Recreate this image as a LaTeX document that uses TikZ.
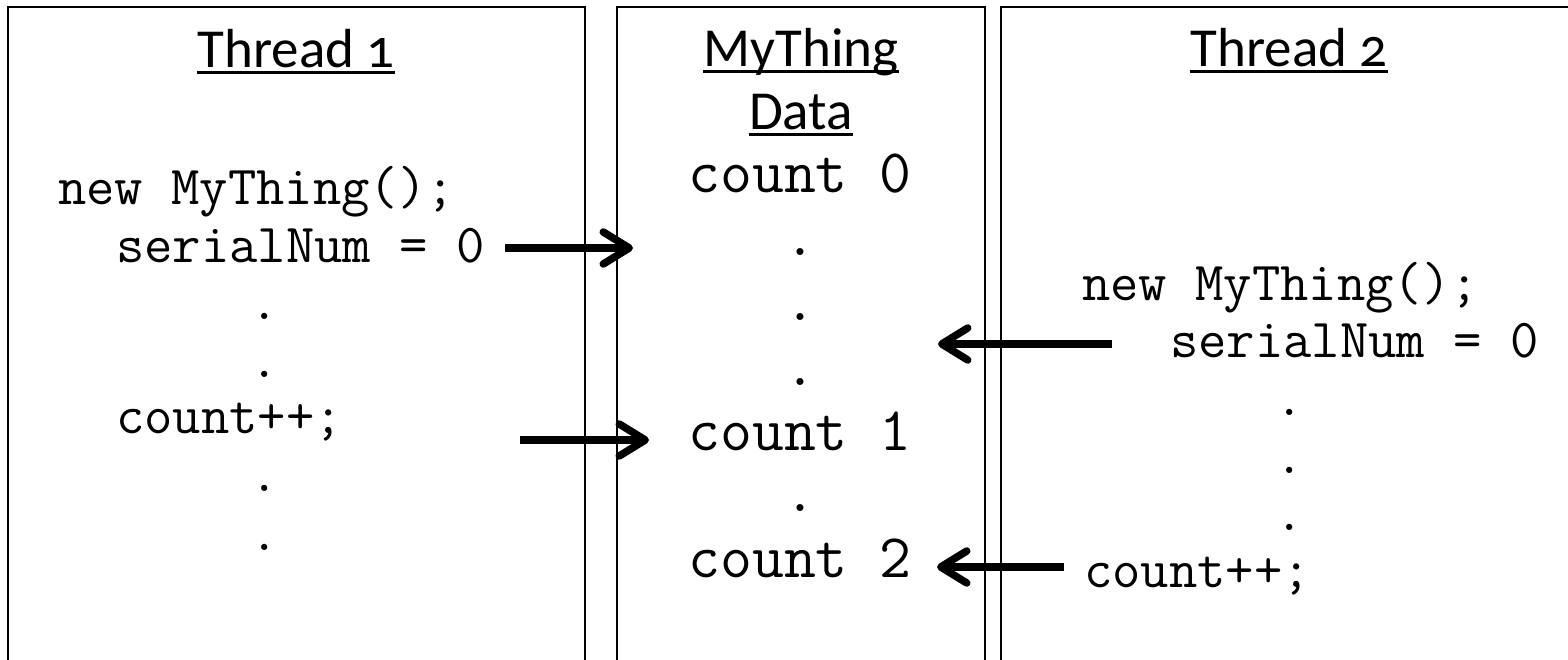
\documentclass[tikz,border=0pt]{standalone}
\usepackage{fontspec}
\setmainfont{Carlito}[Numbers=OldStyle]
\usetikzlibrary{arrows.meta}
\begin{document}
\begin{tikzpicture}[x=1pt,y=-1pt,
  title/.style={inner sep=0pt, font=\fontsize{55}{60}\selectfont},
  code/.style={inner sep=0pt, font=\ttfamily\fontsize{55}{60}\selectfont},
  mcode/.style={inner sep=0pt, font=\ttfamily\fontsize{62}{66}\selectfont},
  panel/.style={draw, line width=1.8pt},
  uline/.style={line width=3pt},
  bigarrow/.style={line width=7.5pt, -{Straight Barb[length=26pt,width=32pt,round]}}]
\useasboundingbox (0,0) rectangle (1568,660);
\clip (0,0) rectangle (1568,660);
% panels
\draw[panel] (8,7) rectangle (585,720);
\draw[panel] (617,7) rectangle (985,720);
\draw[panel] (1001,7) rectangle (1620,720);
% titles
\node[title, anchor=base] (t1) at (296,68) {Thread 1};
\draw[uline] ([yshift=-5pt]t1.base west) -- ([yshift=-5pt]t1.base east);
\node[title, anchor=base] (mt) at (801,67) {MyThing};
\draw[uline] ([yshift=-5pt]mt.base west) -- ([yshift=-5pt]mt.base east);
\node[title, anchor=base] (md) at (801,130) {Data};
\draw[uline] ([yshift=-5pt]md.base west) -- ([yshift=-5pt]md.base east);
\node[title, anchor=base] (t2) at (1289,67) {Thread 2};
\draw[uline] ([yshift=-5pt]t2.base west) -- ([yshift=-5pt]t2.base east);
% thread 1 code
\node[code, anchor=base west] (l1) at (58,205) {new MyThing();};
\node[code, anchor=base west] (l2) at (116,262) {serialNum = 0};
\node[code, anchor=base] (l3) at (265,319) {.};
\node[code, anchor=base] (l4) at (265,377) {.};
\node[code, anchor=base west] (l5) at (116,433) {count++;};
\node[code, anchor=base] (l6) at (265,491) {.};
\node[code, anchor=base] (l7) at (265,550) {.};
% data
\node[mcode, anchor=base] (m1) at (800,193) {count 0};
\node[mcode, anchor=base] (m2) at (800,256) {.};
\node[mcode, anchor=base] (m3) at (800,320) {.};
\node[mcode, anchor=base] (m4) at (800,385) {.};
\node[mcode, anchor=base] (m5) at (800,450) {count 1};
\node[mcode, anchor=base] (m6) at (800,511) {.};
\node[mcode, anchor=base] (m7) at (800,577) {count 2};
% thread 2 code
\node[code, anchor=base west] (r1) at (1082,300) {new MyThing();};
\node[code, anchor=base west] (r2) at (1170,357) {serialNum = 0};
\node[code, anchor=base] (r3) at (1290,415) {.};
\node[code, anchor=base] (r4) at (1290,473) {.};
\node[code, anchor=base] (r5) at (1290,530) {.};
\node[code, anchor=base west] (r6) at (1084,587) {count++;};
% arrows
\coordinate (a1s) at (505,248);
\coordinate (a1e) at (633,248);
\coordinate (a2s) at (520,440);
\coordinate (a2e) at (649,440);
\coordinate (a3s) at (1112,344);
\coordinate (a3e) at (938,344);
\coordinate (a4s) at (1064,567);
\coordinate (a4e) at (937,567);
\draw[bigarrow] (a1s) -- (a1e);
\draw[bigarrow] (a2s) -- (a2e);
\draw[bigarrow] (a3s) -- (a3e);
\draw[bigarrow] (a4s) -- (a4e);
\end{tikzpicture}
\end{document}
